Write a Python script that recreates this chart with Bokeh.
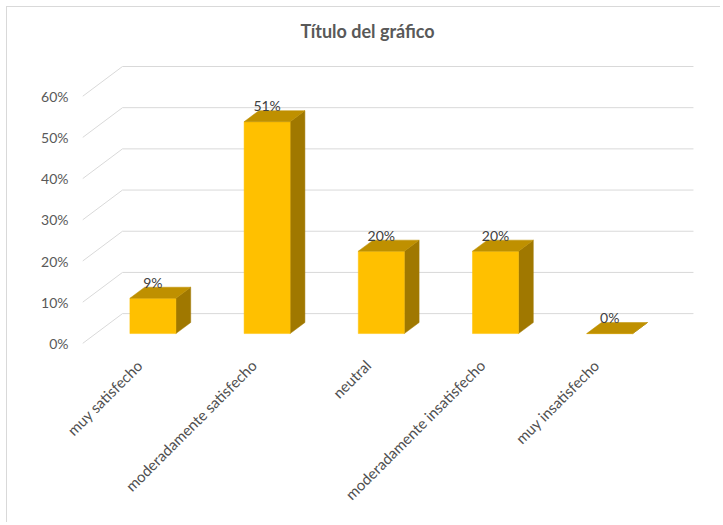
from bokeh.plotting import figure
from bokeh.models import FixedTicker, NumeralTickFormatter, ColumnDataSource, LinearAxis
from bokeh.core.properties import value
from bokeh.embed import file_html
from bokeh.resources import INLINE

# ---- data ----
categories = ["muy satisfecho", "moderadamente satisfecho", "neutral",
              "moderadamente insatisfecho", "muy insatisfecho"]
shares = [0.0857, 0.5143, 0.20, 0.20, 0.0]
y_ticks = [0.0, 0.1, 0.2, 0.3, 0.4, 0.5, 0.6]
title_text = "Título del gráfico"

# ---- 3D look (layout constants) ----
DDX, DDY = 0.35, 0.0726      # floor depth vector in data units
D0, DD = 0.333, 0.37         # bar front depth fraction, bar depth fraction
BW = 0.403                   # bar width
FRONT, TOP, SIDE = "#FFC000", "#BF9000", "#A07800"
GRID = "#D9D9D9"
FONT = "Lato"

n = len(categories)
p = figure(width=714, height=516, output_backend="svg", toolbar_location=None,
           x_range=(0, 5.508), y_range=(-0.0048, 0.709),
           x_axis_location=None, min_border_left=75, min_border_right=10,
           min_border_top=43, min_border_bottom=178,
           background_fill_color="white", border_fill_color="white",
           outline_line_color=None)
p.margin = (6, 0, 0, 6)
p.styles = {"border-top": "1px solid #D9D9D9", "border-left": "1px solid #D9D9D9"}
p.xgrid.visible = False
p.ygrid.visible = False

p.title.text = title_text
p.title.align = "left"
p.title.offset = 218
p.title.standoff = 20
p.title.text_font = FONT
p.title.text_font_size = "18px"
p.title.text_font_style = "bold"
p.title.text_color = "#595959"

ax = p.yaxis[0]
ax.ticker = FixedTicker(ticks=y_ticks)
ax.formatter = NumeralTickFormatter(format="0%")
ax.axis_line_color = None
ax.major_tick_line_color = None
ax.minor_tick_line_color = None
ax.major_tick_out = 0
ax.major_label_standoff = 14
ax.major_label_text_font = FONT
ax.major_label_text_font_size = "14px"
ax.major_label_text_color = "#595959"

# category axis (rotated labels) at the front floor category centres
cat_pos = [i + 0.5 for i in range(n)]
cat_axis = LinearAxis(ticker=FixedTicker(ticks=cat_pos),
                      major_label_overrides={x: c for x, c in zip(cat_pos, categories)},
                      major_label_orientation=0.7854,
                      axis_line_color=None, major_tick_line_color=None,
                      minor_tick_line_color=None, major_tick_out=0,
                      major_tick_in=0, major_label_standoff=17,
                      major_label_text_font=FONT,
                      major_label_text_font_size="15px",
                      major_label_text_color="#505050")
p.add_layout(cat_axis, "below")

# gridlines: left wall diagonals + back wall horizontals
p.segment(x0=[0] * len(y_ticks), y0=y_ticks,
          x1=[DDX] * len(y_ticks), y1=[t + DDY for t in y_ticks],
          line_color=GRID, line_width=1)
p.segment(x0=[DDX] * len(y_ticks), y0=[t + DDY for t in y_ticks],
          x1=[n + DDX] * len(y_ticks), y1=[t + DDY for t in y_ticks],
          line_color=GRID, line_width=1)

# bars
cx = [i + 0.5 + D0 * DDX for i in range(n)]
base = D0 * DDY
tops = [v + base for v in shares]
ox, oy = DD * DDX, DD * DDY
side_xs, side_ys, top_xs, top_ys = [], [], [], []
for c, t in zip(cx, tops):
    xl, xr = c - BW / 2, c + BW / 2
    side_xs.append([xr, xr + ox, xr + ox, xr])
    side_ys.append([base, base + oy, t + oy, t])
    top_xs.append([xl, xr, xr + ox, xl + ox])
    top_ys.append([t, t, t + oy, t + oy])

p.patches(side_xs, side_ys, fill_color=SIDE, line_color=SIDE, line_width=0.5)
p.vbar(x=cx, width=BW, bottom=base, top=tops, fill_color=FRONT,
       line_color=FRONT, line_width=0.5)
p.patches(top_xs, top_ys, fill_color=TOP, line_color=TOP, line_width=0.5)

# data labels
lab_src = ColumnDataSource(dict(x=cx, y=[t + 0.039 for t in tops],
                                txt=[f"{round(v * 100)}%" for v in shares]))
p.text(x="x", y="y", text="txt", source=lab_src, text_align="center",
       text_baseline="middle", text_font=value(FONT), text_font_size="14px",
       text_color="#404040")

open("out.html", "w").write(file_html(p, INLINE))
